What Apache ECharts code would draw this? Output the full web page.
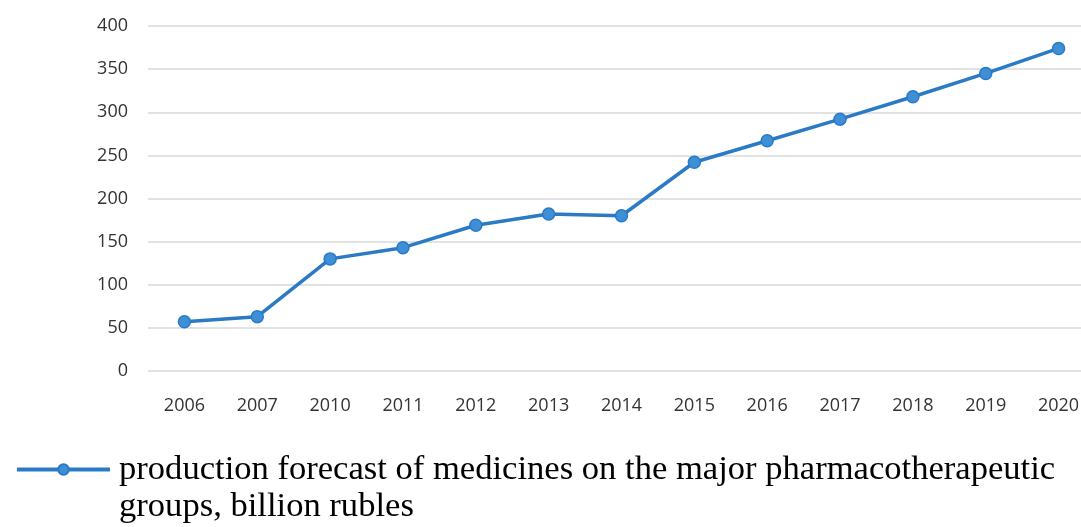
<!DOCTYPE html>
<html><head><meta charset="utf-8">
<script src="https://cdn.jsdelivr.net/npm/echarts@6/dist/echarts.min.js"></script>
<style>html,body{margin:0;padding:0;background:#fff}#c{width:1081px;height:527px}</style>
</head><body><div id="c"></div>
<script>
var categories = ['2006','2007','2010','2011','2012','2013','2014','2015','2016','2017','2018','2019','2020'];
var seriesName = 'production forecast of medicines on the major pharmacotherapeutic\ngroups, billion rubles';
var values = [57, 63, 130, 143, 169, 182, 180, 242, 267, 292, 318, 345, 374];
var yTicks = [0, 50, 100, 150, 200, 250, 300, 350, 400];

var chart = echarts.init(document.getElementById('c'), null, {renderer: 'canvas'});
chart.setOption({
  animation: false,
  backgroundColor: '#fff',
  grid: {left: 148, width: 947, top: 26, bottom: 156, containLabel: false, outerBoundsMode: 'none'},
  xAxis: {
    type: 'category', data: categories, boundaryGap: true,
    axisLine: {show: false}, axisTick: {show: false},
    axisLabel: {color: '#333', fontFamily: 'Open Sans', fontSize: 18, margin: 26}
  },
  yAxis: {
    type: 'value', min: yTicks[0], max: yTicks[yTicks.length - 1], interval: 50,
    axisLine: {show: false}, axisTick: {show: false},
    axisLabel: {color: '#333', fontFamily: 'Open Sans', fontSize: 18, margin: 20},
    splitLine: {lineStyle: {color: '#d9d9d9', width: 1.5}}
  },
  legend: {
    left: 15, top: 414, padding: 0, itemWidth: 93, itemHeight: 13, itemGap: 0,
    formatter: function (n) { return '\n' + n; },
    lineStyle: {width: 4},
    textStyle: {fontFamily: 'Liberation Serif', fontSize: 34.6, color: '#000', lineHeight: 37, padding: [0, 0, 0, 4]},
    data: [seriesName]
  },
  series: [{
    name: seriesName, type: 'line', data: values,
    lineStyle: {color: '#2a7ac6', width: 3.5},
    itemStyle: {color: '#3f8fd6', borderColor: '#2a7ac6', borderWidth: 1.5},
    symbol: 'circle', symbolSize: 12, showSymbol: true
  }]
});
</script></body></html>
